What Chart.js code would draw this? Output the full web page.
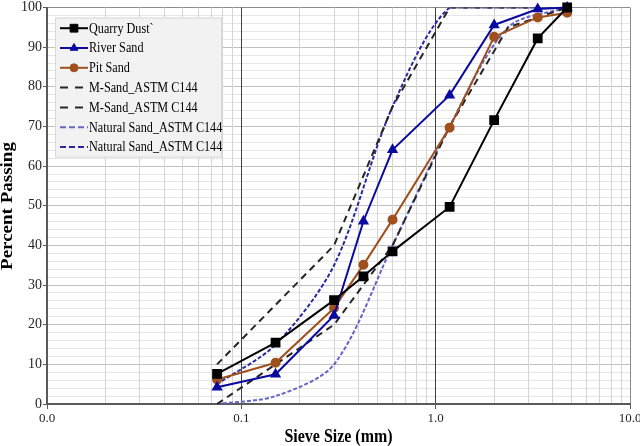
<!DOCTYPE html>
<html>
<head>
<meta charset="utf-8">
<script src="https://cdn.jsdelivr.net/npm/chart.js@4/dist/chart.umd.min.js"></script>
<style>
    html, body { margin: 0; padding: 0; background: #ffffff; }
    #wrap { width: 640px; height: 446px; }
</style>
</head>
<body>
<div id="wrap"><canvas id="grading-chart"></canvas></div>
<script>
// sieve sizes (mm)
const sampleSieves = [0.075, 0.15, 0.3, 0.425, 0.6, 1.18, 2.0, 3.35, 4.75];
const astmSieves = [0.075, 0.15, 0.3, 0.6, 1.18, 2.36, 4.75];

// percent passing
const quarryDust = [7.6, 15.5, 26.2, 32.2, 38.5, 49.7, 71.6, 92.2, 100];
const riverSand = [4.2, 7.5, 22.3, 46.1, 64.1, 77.9, 95.6, 99.6, 100];
const pitSand = [6.2, 10.4, 24.2, 35.1, 46.5, 69.7, 92.6, 97.5, 98.7];
const mSandLower = [0, 10, 20, 40, 70, 95, 100];
const mSandUpper = [10, 25, 40, 75, 100, 100, 100];
const naturalLower = [0, 2, 10, 40, 70, 95, 100];
const naturalUpper = [5, 15, 35, 75, 100, 100, 100];

// axis ticks and titles
const xDecades = [0.01, 0.1, 1, 10];
const xMultipliers = [1, 2, 3, 4, 5, 6, 7, 8, 9];
const yMin = 0;
const yMax = 100;
const yMinorStep = 2;
const xTitle = 'Sieve Size (mm)';
const yTitle = 'Percent Passing';

const FONT = "'Liberation Serif', 'Times New Roman', serif";
// the original picture is a bit narrower than its text, squeeze text to match
const SQUEEZE = 0.84;

const pairs = (xs, ys) => xs.map((x, i) => ({ x: x, y: ys[i] }));
const isDecade = v => Math.abs(Math.log10(v) - Math.round(Math.log10(v))) < 1e-6;

const xTickValues = [];
xDecades.forEach(d => {
    xMultipliers.forEach(m => {
        const v = +(d * m).toPrecision(6);
        if (v <= xDecades[xDecades.length - 1]) xTickValues.push(v);
    });
});

// axis titles, drawn narrow like the source
const axisTitles = {
    id: 'axisTitles',
    afterDraw(chart) {
        const ctx = chart.ctx;
        const area = chart.chartArea;
        ctx.save();
        ctx.fillStyle = '#000000';
        ctx.font = 'bold 19px ' + FONT;
        ctx.textAlign = 'center';
        ctx.textBaseline = 'middle';

        ctx.save();
        ctx.translate((area.left + area.right) / 2, 437);
        ctx.scale(SQUEEZE, 1);
        ctx.fillText(xTitle, 0, 0);
        ctx.restore();

        ctx.save();
        ctx.translate(8, 206);
        ctx.rotate(-Math.PI / 2);
        ctx.scale(1, SQUEEZE);
        ctx.fillText(yTitle, 0, 0);
        ctx.restore();

        ctx.restore();
    }
};

// legend drawn inside the plot, Excel style
const boxLegend = {
    id: 'boxLegend',
    afterDatasetsDraw(chart) {
        const ctx = chart.ctx;
        const area = chart.chartArea;
        const left = area.left + 8;
        const top = area.top + 10;
        const width = 167;
        const height = 140;
        const rowGap = 19.8;

        ctx.save();
        ctx.fillStyle = '#f2f2f2';
        ctx.strokeStyle = '#d9d9d9';
        ctx.lineWidth = 1;
        ctx.fillRect(left, top, width, height);
        ctx.strokeRect(left + 0.5, top + 0.5, width - 1, height - 1);

        chart.data.datasets.forEach((ds, i) => {
            const y = top + 10.7 + i * rowGap;
            const x0 = left + 5;
            const x1 = left + 33;

            ctx.save();
            ctx.strokeStyle = ds.borderColor;
            ctx.lineWidth = ds.borderWidth;
            ctx.setLineDash(ds.legendDash || []);
            ctx.beginPath();
            ctx.moveTo(x0, y);
            ctx.lineTo(x1, y);
            ctx.stroke();
            ctx.restore();

            if (ds.pointRadius > 0) {
                ctx.save();
                ctx.fillStyle = ds.pointBackgroundColor;
                ctx.strokeStyle = ds.pointBorderColor;
                ctx.lineWidth = 1;
                Chart.helpers.drawPoint(ctx, {
                    pointStyle: ds.pointStyle,
                    radius: ds.pointRadius,
                    rotation: 0,
                    borderWidth: 1
                }, (x0 + x1) / 2, y);
                ctx.restore();
            }

            ctx.save();
            ctx.translate(x1 + 1, y + 0.5);
            ctx.scale(SQUEEZE, 1);
            ctx.fillStyle = '#000000';
            ctx.font = '14.5px ' + FONT;
            ctx.textBaseline = 'middle';
            ctx.textAlign = 'left';
            ctx.fillText(ds.label, 0, 0);
            ctx.restore();
        });
        ctx.restore();
    }
};

function markerSet(color, style, radius) {
    return {
        borderColor: color,
        backgroundColor: color,
        pointBackgroundColor: color,
        pointBorderColor: color,
        pointStyle: style,
        pointRadius: radius,
        pointHoverRadius: radius,
        borderWidth: 2,
        tension: 0,
        clip: false
    };
}

function limitSet(color, dash, legendDash, tension) {
    return {
        borderColor: color,
        backgroundColor: color,
        borderWidth: 2,
        borderDash: dash,
        legendDash: legendDash,
        pointRadius: 0,
        pointHoverRadius: 0,
        tension: tension
    };
}

const datasets = [
    Object.assign({ label: 'Quarry Dust`', data: pairs(sampleSieves, quarryDust) }, markerSet('#000000', 'rect', 5.5)),
    Object.assign({ label: 'River Sand', data: pairs(sampleSieves, riverSand) }, markerSet('#0a0aa0', 'triangle', 4.5)),
    Object.assign({ label: 'Pit Sand', data: pairs(sampleSieves, pitSand) }, markerSet('#a0501e', 'circle', 4)),
    Object.assign({ label: 'M-Sand_ASTM C144', data: pairs(astmSieves, mSandLower) }, limitSet('#262626', [7, 5], [8, 7], 0)),
    Object.assign({ label: 'M-Sand_ASTM C144', data: pairs(astmSieves, mSandUpper) }, limitSet('#262626', [7, 5], [8, 7], 0)),
    Object.assign({ label: 'Natural Sand_ASTM C144', data: pairs(astmSieves, naturalLower) }, limitSet('#6464c8', [4, 2], [6, 3], 0.3)),
    Object.assign({ label: 'Natural Sand_ASTM C144', data: pairs(astmSieves, naturalUpper) }, limitSet('#2828a0', [4, 2], [6, 3], 0.3))
];

new Chart(document.getElementById('grading-chart'), {
    type: 'line',
    data: { datasets: datasets },
    options: {
        responsive: true,
        maintainAspectRatio: false,
        animation: false,
        layout: { padding: { top: 5, right: 10, left: 0, bottom: 0 } },
        plugins: {
            legend: { display: false },
            tooltip: { enabled: false }
        },
        scales: {
            x: {
                type: 'logarithmic',
                min: xDecades[0],
                max: xDecades[xDecades.length - 1],
                afterBuildTicks: scale => {
                    scale.ticks = xTickValues.map(v => ({ value: v }));
                },
                afterFit: scale => {
                    scale.height = 42;
                    scale.paddingLeft = 0;
                    scale.paddingRight = 0;
                },
                border: { color: '#595959', width: 2 },
                grid: {
                    z: -1,
                    color: ctx => {
                        const v = ctx.tick.value;
                        if (v === xDecades[0]) return 'rgba(0,0,0,0)';
                        if (v === xDecades[xDecades.length - 1]) return '#8c8c8c';
                        return isDecade(v) ? '#404040' : '#d4d4d4';
                    },
                    tickColor: ctx => isDecade(ctx.tick.value) ? '#595959' : 'rgba(0,0,0,0)',
                    tickLength: 5,
                    lineWidth: 1
                },
                ticks: {
                    autoSkip: false,
                    maxRotation: 0,
                    padding: 2,
                    color: '#262626',
                    font: { family: FONT, size: 13 },
                    callback: v => isDecade(v) ? Number(v).toFixed(1) : ''
                },
                title: { display: false }
            },
            y: {
                min: yMin,
                max: yMax,
                afterFit: scale => {
                    scale.width = 47;
                    scale.paddingTop = 0;
                    scale.paddingBottom = 0;
                },
                border: { color: '#595959', width: 2 },
                grid: {
                    z: -2,
                    color: ctx => {
                        const v = ctx.tick.value;
                        if (v === yMin) return 'rgba(0,0,0,0)';
                        if (v === yMax) return '#8c8c8c';
                        return v % 10 === 0 ? '#c0c0c0' : '#e6e6e6';
                    },
                    tickColor: ctx => ctx.tick.value % 10 === 0 ? '#595959' : 'rgba(0,0,0,0)',
                    tickLength: 4,
                    lineWidth: 1
                },
                ticks: {
                    stepSize: yMinorStep,
                    autoSkip: false,
                    padding: 1,
                    color: '#262626',
                    font: { family: FONT, size: 14 },
                    callback: v => v % 10 === 0 ? v : ''
                },
                title: { display: false }
            }
        }
    },
    plugins: [boxLegend, axisTitles]
});
</script>
</body>
</html>
